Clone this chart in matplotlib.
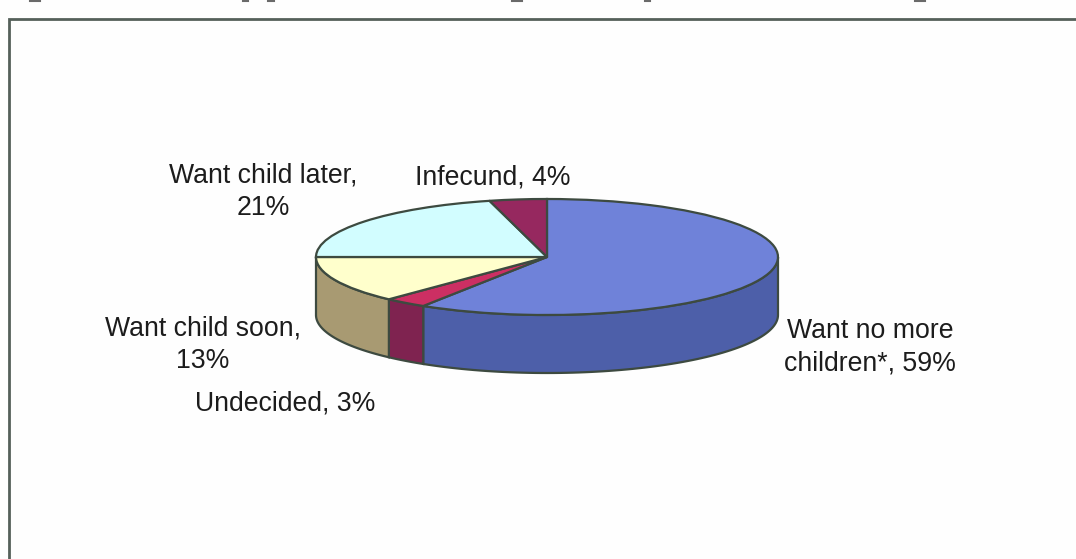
#!/usr/bin/env python3
# 3D style pie of fertility preference, built from a flattened pie and a side wall
import numpy as np
import matplotlib
matplotlib.use("Agg")
import matplotlib.pyplot as plt
from matplotlib.patches import Polygon
from matplotlib.transforms import Affine2D

plt.rcParams['font.family'] = ['Liberation Sans', 'DejaVu Sans']

categories = ["Want no more\nchildren*", "Undecided", "Want child soon", "Want child later", "Infecund"]
shares = [59, 3, 13, 21, 4]

top_colors = ["#6f82d9", "#cc2f63", "#ffffcc", "#d2fdff", "#96285f"]
side_colors = ["#4d5fa9", "#7f2350", "#a89a72", "#8fb0b0", "#6a1c44"]
edge_color = "#3d4a40"

W, H = 1076, 559
CX, CY = 547, 257
RX, RY = 231, 58
DEPTH = 58


def px(x, y):
    # pixel position (from top left) to data position around the pie centre
    return x - CX, CY - y


fig = plt.figure(figsize=(W / 100, H / 100), dpi=100, facecolor="#fefefe")
ax = fig.add_axes([0, 0, 1, 1])

# side wall, only the front half of the rim can be seen
edges = np.cumsum([0] + shares) / sum(shares) * 2 * np.pi
for i, col in enumerate(side_colors):
    a0, a1 = max(edges[i], np.pi / 2), min(edges[i + 1], 3 * np.pi / 2)
    if a1 <= a0:
        continue
    t = np.linspace(a0, a1, 80)
    x = RX * np.sin(t)
    y = RY * np.cos(t)
    pts = np.r_[np.c_[x, y], np.c_[x, y - DEPTH][::-1]]
    ax.add_patch(Polygon(pts, closed=True, fc=col, ec=edge_color, lw=1.6, zorder=1))

wedges, _ = ax.pie(shares, colors=top_colors, startangle=90, counterclock=False,
                   radius=RX, frame=True,
                   wedgeprops=dict(edgecolor=edge_color, linewidth=1.6, zorder=2))
squash = Affine2D().scale(1, RY / RX) + ax.transData
for w in wedges:
    w.set_transform(squash)

ax.set_aspect("auto")
ax.set_xlim(-CX, W - CX)
ax.set_ylim(CY - H, CY)
ax.axis("off")

# chart frame: only top and left sides are inside the crop
ax.plot(*zip(px(9, 559), px(9, 19), px(1076, 19)), color="#55605a", lw=2, zorder=3,
        solid_joinstyle="miter")

# bottoms of the caption letters cut off at the top edge
for x0, x1 in [(30, 40), (243, 248), (268, 274), (512, 522), (645, 650), (915, 925)]:
    ax.plot(*zip(px(x0, 1), px(x1, 1)), color="#6a6a6a", lw=1.5, zorder=3)

label_pos = [(870, 347), (285, 404), (203, 345), (263, 192), (493, 177)]
for name, val, (lx, ly) in zip(categories, shares, label_pos):
    if name == "Want child soon" or name == "Want child later":
        s = f"{name},\n{val}%"
    else:
        s = f"{name}, {val}%"
    ax.text(*px(lx, ly), s, ha="center", va="center", fontsize=19.2, color="#1c1c1c",
            linespacing=1.33, zorder=4)

fig.savefig("out.png", dpi=100, facecolor=fig.get_facecolor())
